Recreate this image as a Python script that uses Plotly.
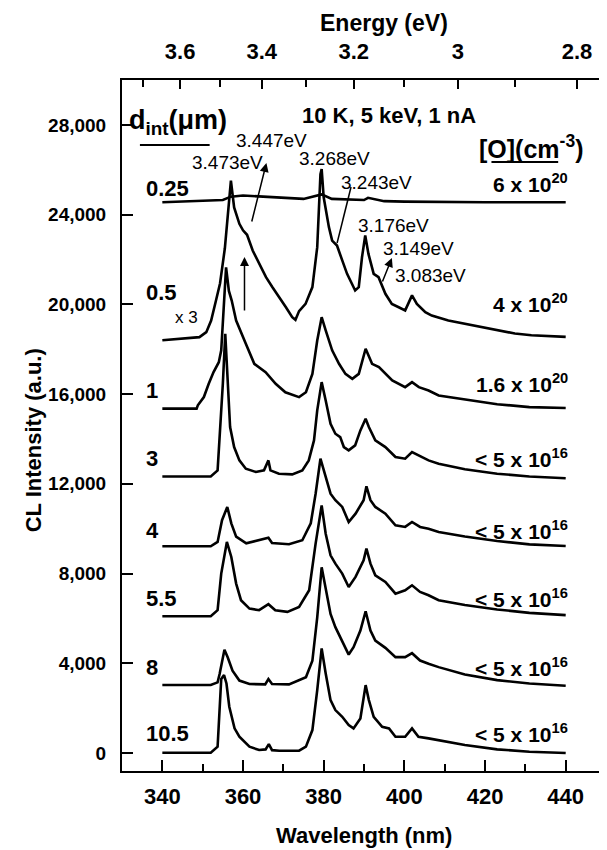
import plotly.graph_objects as go

# ---------------- data ----------------
wl_tick_vals = [340, 360, 380, 400, 420, 440]
wl_minor_vals = [350, 370, 390, 410, 430]
energy_tick_vals = [3.6, 3.4, 3.2, 3.0, 2.8]
energy_tick_text = ["3.6", "3.4", "3.2", "3", "2.8"]
energy_minor_vals = [3.7, 3.5, 3.3, 3.1, 2.9]
y_tick_vals = [0, 4000, 8000, 12000, 16000, 20000, 24000, 28000]

d_labels = ["0.25", "0.5", "1", "3", "4", "5.5", "8", "10.5"]
o_labels = ["6 x 10<sup>20</sup>", "4 x 10<sup>20</sup>", "1.6 x 10<sup>20</sup>",
            "< 5 x 10<sup>16</sup>", "< 5 x 10<sup>16</sup>", "< 5 x 10<sup>16</sup>",
            "< 5 x 10<sup>16</sup>", "< 5 x 10<sup>16</sup>"]

wl_025 = [340, 350, 355, 357, 360, 365, 370, 375, 379.5, 382, 390, 391, 395, 400, 420, 440]
int_025 = [24550, 24600, 24650, 24800, 24850, 24800, 24750, 24700, 24900, 24700, 24650, 24750,
           24600, 24580, 24550, 24550]

wl_05 = [340, 349.2, 350.9, 352.1, 353.3, 354.3, 355.5, 357.0, 357.8, 359.1, 360.0, 361.0, 362.4,
         364.0, 365.7, 367.3, 369.0, 370.6, 372.2, 373.0, 373.9, 375.5, 377.2, 378.4, 379.2, 379.5,
         380.0, 381.3, 382.1, 383.3, 384.6, 385.8, 387.0, 387.8, 388.7, 389.5, 390.3, 391.1, 392.4,
         393.6, 395.3, 396.9, 398.6, 400.2, 401.9, 403.1, 405.2, 406.8, 410.9, 415.0, 419.2, 423.3,
         427.4, 431.5, 435.7, 440]
int_05 = [18400, 18540, 18760, 19280, 20170, 20930, 22500, 25510, 24320, 23590, 23300, 23100, 22400,
          21810, 21210, 20760, 20320, 19880, 19430, 19310, 19700, 20020, 20770, 22550, 25800, 26030,
          24770, 23440, 22840, 22620, 21960, 21360, 20920, 20620, 20770, 22100, 23070, 22250, 21360,
          21210, 20470, 20020, 19870, 19730, 20400, 20020, 19650, 19500, 19280, 19140, 18990, 18840,
          18700, 18620, 18570, 18550]

wl_1 = [340, 348.5, 348.8, 350.3, 351.5, 352.7, 354.0, 354.6, 355.8, 356.5, 357.2, 358.3, 360.7,
        362.8, 365.6, 368.1, 370.5, 373.9, 375.6, 377.2, 378.4, 379.5, 380.5, 382.1, 383.8, 385.4,
        387.1, 388.7, 390.4, 392.0, 393.7, 397.0, 400.2, 401.9, 403.6, 406.0, 408.5, 415, 423, 431, 440]
int_1 = [15350, 15350, 15500, 15870, 16460, 16980, 17420, 17950, 21650, 20600, 20170, 19280, 18240,
         17350, 16980, 16460, 16080, 15865, 16080, 16900, 18390, 19430, 18840, 17950, 17350, 16900,
         16680, 16900, 18020, 17350, 17200, 16610, 16310, 16530, 16310, 16160, 15940, 15750, 15550,
         15420, 15380]

wl_3 = [340, 352, 353.7, 354.6, 355.0, 355.6, 356.2, 356.8, 357.8, 359.1, 360.7, 363.2, 365.2, 366.3,
        366.8, 368.9, 372.2, 374.7, 376.3, 377.6, 378.4, 379.5, 380.5, 381.7, 382.9, 384.1, 385.0,
        386.2, 387.8, 389.1, 390.4, 391.2, 392.8, 395.3, 397.8, 400.2, 401.9, 403.5, 406.0, 408.5,
        415, 423, 431, 440]
int_3 = [12330, 12330, 12600, 14970, 16460, 18690, 16460, 14530, 13640, 13045, 12674, 12526, 12600,
         13045, 12600, 12452, 12422, 12600, 13045, 13936, 15272, 16533, 15717, 14678, 14233, 14084,
         13639, 13491, 13713, 14381, 14901, 14530, 13936, 13639, 13194, 13120, 13416, 13268, 13045,
         12897, 12650, 12450, 12330, 12250]

wl_4 = [340, 352, 353.7, 354.8, 356.1, 357.1, 358.3, 360.8, 366.3, 367.2, 371.4, 374.7, 376.8, 378.0,
        379.2, 380.5, 381.7, 382.9, 384.6, 386.2, 387.9, 389.9, 390.6, 391.6, 392.8, 395.3, 397.8,
        400.2, 401.9, 403.9, 406.0, 408.5, 415, 423, 431, 440]
int_4 = [9216, 9216, 9410, 10380, 10970, 10240, 9645, 9350, 9600, 9365, 9306, 9484, 10240, 11560,
         13120, 12300, 11560, 11270, 10970, 10300, 10670, 11270, 11890, 11270, 10970, 10670, 10150,
         10080, 10300, 10080, 10000, 9855, 9650, 9450, 9300, 9230]

wl_55 = [340, 352, 353.7, 354.6, 356.0, 357.1, 358.3, 359.5, 361.6, 364.0, 366.3, 368.0, 371.0, 373.9,
         376.4, 378.0, 379.5, 380.5, 381.7, 382.9, 384.6, 386.2, 387.9, 389.9, 390.6, 391.6, 392.8,
         395.3, 397.8, 400.2, 401.9, 403.9, 406.0, 408.5, 415, 423, 431, 440]
int_55 = [6100, 6100, 6367, 8000, 9410, 8740, 7553, 6812, 6440, 6367, 6634, 6367, 6293, 6515, 7257,
          9335, 11040, 9777, 8813, 8442, 8000, 7400, 7850, 8590, 9110, 8442, 7923, 7626, 7107, 7256,
          7478, 7181, 7033, 6810, 6600, 6400, 6250, 6150]

wl_8 = [340, 352, 353.7, 354.2, 355.4, 356.2, 357.4, 359.1, 361.6, 365.5, 366.3, 367.2, 371.4, 375.6,
        377.2, 378.4, 379.5, 380.5, 381.7, 382.9, 384.6, 386.2, 387.4, 389.1, 390.4, 391.6, 392.8,
        395.3, 397.8, 400.2, 401.9, 403.9, 406.0, 408.5, 415, 423, 431, 440]
int_8 = [3030, 3030, 3150, 3520, 4600, 4270, 3670, 3230, 3080, 3060, 3300, 3080, 3060, 3380, 4120,
         6050, 8280, 7390, 6200, 5610, 5015, 4390, 4720, 5460, 6320, 5460, 5015, 4690, 4274, 4274,
         4450, 4125, 3980, 3830, 3500, 3250, 3100, 3000]

wl_105 = [340, 352, 353.7, 354.6, 355.3, 355.9, 356.6, 357.9, 359.1, 361.6, 364.0, 365.6, 366.4, 367.2,
          369.0, 371.4, 373.9, 375.6, 377.2, 378.4, 379.5, 380.5, 381.7, 382.9, 384.6, 386.2, 387.4,
          389.1, 390.4, 391.2, 392.4, 394.5, 396.2, 397.8, 400.2, 401.9, 403.5, 406.0, 408.5, 415,
          423, 431, 440]
int_105 = [15, 15, 282, 3300, 3473, 3100, 2063, 1100, 727, 282, 134, 163, 400, 130, 104, 104, 104,
           282, 1024, 2805, 4660, 3547, 2360, 1915, 1618, 1247, 1098, 1543, 3028, 2360, 1618, 1172,
           1098, 727, 727, 1098, 727, 653, 579, 356, 165, 60, 0]

curves_wl = [wl_025, wl_05, wl_1, wl_3, wl_4, wl_55, wl_8, wl_105]
curves_int = [int_025, int_05, int_1, int_3, int_4, int_55, int_8, int_105]

# ---------------- figure ----------------
# the page body has an 8 px margin, so the figure is made 8 px smaller and
# all reference positions (page pixels) are mapped through px()/py().
PAGE_OFF = 8
W, H = 607 - PAGE_OFF, 850 - PAGE_OFF
PLOT_L, PLOT_R, PLOT_T, PLOT_B = 122, 604, 80, 771      # plot frame in page pixels
L = PLOT_L - PAGE_OFF
T = PLOT_T - PAGE_OFF
R = W - (PLOT_R - PAGE_OFF)
B = H - (PLOT_B - PAGE_OFF)
PW, PH = PLOT_R - PLOT_L, PLOT_B - PLOT_T


def px(x):
    return (x - PLOT_L) / PW


def py(y):
    return (PLOT_B - y) / PH


FONT = "Liberation Sans, Arial, Helvetica, sans-serif"
fig = go.Figure()
for i, (xs, ys) in enumerate(zip(curves_wl, curves_int)):
    fig.add_trace(go.Scatter(x=xs, y=ys, mode="lines", line=dict(color="black", width=2.6),
                             xaxis="x2" if i == 0 else "x", showlegend=False, hoverinfo="skip"))

energy_pos = [1239.84 / e for e in energy_tick_vals]
energy_minor_pos = [1239.84 / e for e in energy_minor_vals]
xrange = [330, 449]

fig.update_layout(
    width=W, height=H, margin=dict(l=L, r=R, t=T, b=B),
    paper_bgcolor="white", plot_bgcolor="white",
    font=dict(family=FONT, color="black"),
    xaxis=dict(range=xrange, tickvals=wl_tick_vals, ticktext=[f"<b>{v}</b>" for v in wl_tick_vals],
               ticks="inside", ticklen=11, tickwidth=2, tickcolor="black", ticklabelstandoff=5,
               minor=dict(tickvals=wl_minor_vals, ticks="inside", ticklen=7, tickwidth=2, tickcolor="black"),
               showline=True, linewidth=2, linecolor="black", showgrid=False, zeroline=False,
               tickfont=dict(size=22, family=FONT)),
    xaxis2=dict(range=xrange, overlaying="x", side="top", anchor="y",
                tickvals=energy_pos, ticktext=[f"<b>{t}</b>" for t in energy_tick_text],
                ticks="inside", ticklen=9, tickwidth=2, tickcolor="black", ticklabelstandoff=10,
                minor=dict(tickvals=energy_minor_pos, ticks="inside", ticklen=7, tickwidth=2, tickcolor="black"),
                showline=True, linewidth=2, linecolor="black", showgrid=False, zeroline=False,
                tickfont=dict(size=22, family=FONT)),
    yaxis=dict(range=[-800, 30000], tickvals=y_tick_vals,
               ticktext=[f"<b>{v:,}</b>" for v in y_tick_vals],
               ticks="inside", ticklen=11, tickwidth=2, tickcolor="black", ticklabelstandoff=10,
               showline=True, linewidth=2, linecolor="black", mirror=True,
               showgrid=False, zeroline=False, tickfont=dict(size=19, family=FONT)),
)

ann = []
# axis titles
ann.append(dict(text="<b>Wavelength (nm)</b>", x=px(365), y=py(835), font=dict(size=22)))
ann.append(dict(text="<b>Energy (eV)</b>", x=px(385), y=py(23), font=dict(size=23)))
ann.append(dict(text="<b>CL Intensity (a.u.)</b>", x=px(33), y=py(440), textangle=-90, font=dict(size=22)))
ann.append(dict(text="<b>10 K, 5 keV, 1 nA</b>", x=px(390), y=py(115), font=dict(size=22)))
ann.append(dict(text="<b>d<sub>int</sub>(μm)</b>", x=px(127), y=py(122), xanchor="left", font=dict(size=27)))
ann.append(dict(text="<b>[O](cm<sup>-3</sup>)</b>", x=px(533), y=py(147), font=dict(size=25)))

# depth labels (left) and oxygen labels (right)
d_y = [188, 292, 390, 458, 530, 598, 667, 733]
o_y = [183, 303, 383, 458, 530, 598, 667, 733]
for lab, yy in zip(d_labels, d_y):
    ann.append(dict(text=f"<b>{lab}</b>", x=px(144), y=py(yy), xanchor="left", font=dict(size=22)))
for lab, yy in zip(o_labels, o_y):
    ann.append(dict(text=f"<b>{lab}</b>", x=px(572), y=py(yy), xanchor="right", font=dict(size=21)))
ann.append(dict(text="x 3", x=px(187), y=py(317), font=dict(size=17)))

# peak energy labels
for t, cx, cy in [("3.447eV", 272, 140), ("3.473eV", 228, 162), ("3.268eV", 335, 158),
                  ("3.243eV", 378, 182), ("3.176eV", 395, 225), ("3.149eV", 420, 248),
                  ("3.083eV", 432, 275)]:
    ann.append(dict(text=t, x=px(cx), y=py(cy), font=dict(size=19)))

# arrows
for hx, hy, tx, ty in [(267, 163, 252, 223), (393, 258, 383, 283), (245, 257, 245, 312)]:
    ann.append(dict(text="", x=px(hx), y=py(hy), ax=tx - hx, ay=ty - hy, showarrow=True,
                    arrowhead=2, arrowsize=1.2, arrowwidth=1.5, arrowcolor="black"))

for a in ann:
    a.setdefault("xref", "paper")
    a.setdefault("yref", "paper")
    a.setdefault("showarrow", False)
    a.setdefault("xanchor", "center")
    a.setdefault("yanchor", "middle")
    a["font"] = dict(family=FONT, color="black", **a.get("font", {}))
fig.update_layout(annotations=ann)

shapes = [
    dict(type="line", xref="paper", yref="paper", x0=px(352), y0=py(187), x1=px(338), y1=py(243),
         line=dict(color="black", width=1.5)),
    dict(type="line", xref="paper", yref="paper", x0=px(140), y0=py(145), x1=px(210), y1=py(145),
         line=dict(color="black", width=2)),
    dict(type="line", xref="paper", yref="paper", x0=px(493), y0=py(162), x1=px(560), y1=py(162),
         line=dict(color="black", width=2)),
]
fig.update_layout(shapes=shapes)

fig.write_html("out.html")
